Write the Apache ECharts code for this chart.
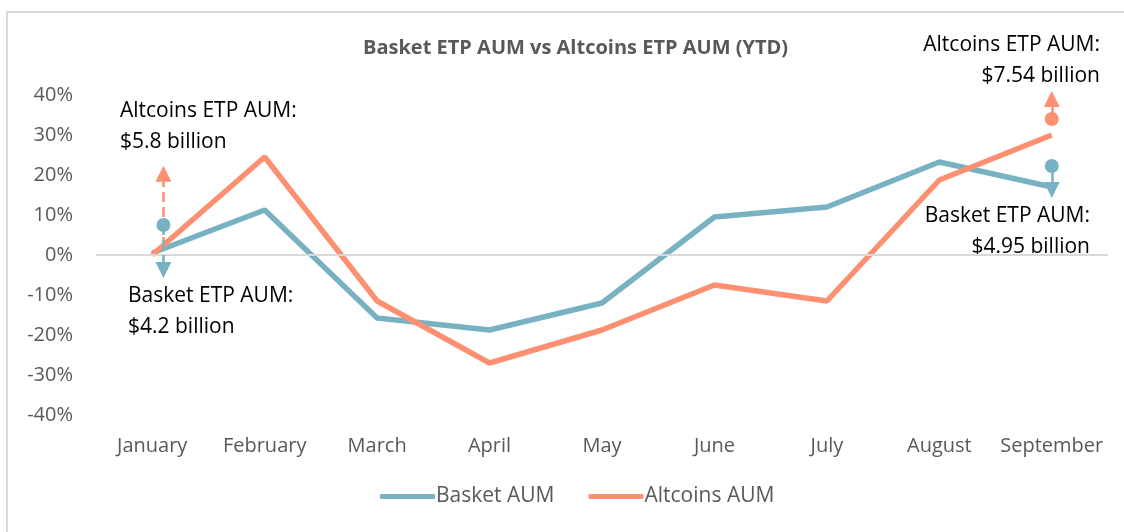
<!DOCTYPE html>
<html>
<head>
<meta charset="utf-8">
<script src="https://cdn.jsdelivr.net/npm/echarts@6/dist/echarts.min.js"></script>
<style>
  html, body { margin: 0; padding: 0; background: #fff; }
  #chart { width: 1124px; height: 532px; }
</style>
</head>
<body>
<div id="chart"></div>
<script>
// months on the x axis
var months = ["January", "February", "March", "April", "May", "June", "July", "August", "September"];
// YTD change in %
var basketAUM = [0.5, 11.25, -15.75, -18.75, -12, 9.5, 12, 23.25, 17];
var altcoinsAUM = [0, 24.5, -11.5, -27, -18.75, -7.5, -11.5, 18.75, 30];
var yTicks = [-40, -30, -20, -10, 0, 10, 20, 30, 40];

// annotation markers: [month position, value]
var basketDots = [[0.1, 7.5], [8, 22.25]];
var altcoinsDots = [[8, 34]];
// arrows: [month position, from, to, line type]
var basketArrows = [[0.1, 7.5, -3.75, "dashed"], [8, 22.25, 16.25, "solid"]];
var altcoinsArrows = [[0.1, 2, 20.3, "dashed"], [8, 34, 39, "solid"]];

var blue = "#78B2C2";
var orange = "#FC9070";
var grey = "#595959";
var font = "'Open Sans', 'Noto Sans', sans-serif";

function arrowLines(list) {
  return list.map(function (a) {
    return [
      { coord: [a[0], a[1]], symbol: "none", lineStyle: { type: a[3] } },
      { coord: [a[0], a[2]], symbol: "triangle", symbolSize: 16 }
    ];
  });
}

var chart = echarts.init(document.getElementById("chart"));

var option = {
  animation: false,
  textStyle: { fontFamily: font },
  title: {
    text: "Basket ETP AUM vs Altcoins ETP AUM (YTD)",
    left: 358,
    top: 33,
    textStyle: { fontSize: 20, fontWeight: "bold", color: grey, fontFamily: font }
  },
  legend: {
    data: ["Basket AUM", "Altcoins AUM"],
    bottom: 20,
    left: 375,
    icon: "roundRect",
    itemWidth: 55,
    itemHeight: 5,
    itemGap: 34,
    textStyle: { fontSize: 21, color: grey, fontFamily: font, padding: [0, 0, 0, -4] }
  },
  grid: { left: 96, right: 16, top: 95, bottom: 117 },
  xAxis: [
    {
      type: "category",
      data: months,
      boundaryGap: true,
      axisLine: { show: false },
      axisTick: { show: false },
      axisLabel: { color: grey, fontSize: 20, margin: 21, interval: 0 }
    },
    {
      type: "value",
      min: -0.5,
      max: 8.5,
      show: false
    }
  ],
  yAxis: {
    type: "value",
    min: yTicks[0],
    max: yTicks[yTicks.length - 1],
    interval: 10,
    splitLine: { show: false },
    axisLine: { show: false },
    axisTick: { show: false },
    axisLabel: { color: grey, fontSize: 20, margin: 23, formatter: "{value}%" }
  },
  graphic: [
    {
      type: "rect",
      shape: { x: 7, y: 12, width: 1300, height: 700 },
      style: { fill: "none", stroke: "#d9d9d9", lineWidth: 2 },
      silent: true,
      z: -10
    },
    {
      type: "text",
      style: { text: "Altcoins ETP AUM:\n$5.8 billion", x: 120, y: 96, font: "21px " + font, fill: "#000", lineHeight: 31 }
    },
    {
      type: "text",
      style: { text: "Basket ETP AUM:\n$4.2 billion", x: 128, y: 281, font: "21px " + font, fill: "#000", lineHeight: 31 }
    },
    {
      type: "text",
      style: { text: "Altcoins ETP AUM:\n$7.54 billion", x: 1100, y: 30, align: "right", font: "21px " + font, fill: "#000", lineHeight: 31 }
    },
    {
      type: "text",
      style: { text: "Basket ETP AUM:\n$4.95 billion", x: 1090, y: 201, align: "right", font: "21px " + font, fill: "#000", lineHeight: 31 }
    }
  ],
  series: [
    {
      name: "zero",
      type: "line",
      data: [],
      z: 1,
      markLine: {
        silent: true,
        symbol: "none",
        label: { show: false },
        lineStyle: { color: "#d9d9d9", width: 2, type: "solid" },
        data: [{ yAxis: 0 }]
      }
    },
    {
      name: "Basket AUM",
      type: "line",
      data: basketAUM,
      symbol: "none",
      color: blue,
      z: 3,
      lineStyle: { width: 5.5, color: blue }
    },
    {
      name: "Altcoins AUM",
      type: "line",
      data: altcoinsAUM,
      symbol: "none",
      color: orange,
      z: 3,
      lineStyle: { width: 5.5, color: orange }
    },
    {
      name: "altcoins arrows",
      type: "scatter",
      xAxisIndex: 1,
      data: altcoinsDots,
      symbolSize: 14,
      itemStyle: { color: orange, opacity: 1 },
      z: 4,
      markLine: {
        silent: true,
        symbol: ["none", "triangle"],
        symbolSize: 16,
        label: { show: false },
        lineStyle: { color: orange, width: 2.5, opacity: 1 },
        itemStyle: { color: orange },
        data: arrowLines(altcoinsArrows)
      }
    },
    {
      name: "basket arrows",
      type: "scatter",
      xAxisIndex: 1,
      data: basketDots,
      symbolSize: 14,
      itemStyle: { color: blue, opacity: 1 },
      z: 5,
      markLine: {
        silent: true,
        symbol: ["none", "triangle"],
        symbolSize: 16,
        label: { show: false },
        lineStyle: { color: blue, width: 2.5, opacity: 1 },
        itemStyle: { color: blue },
        data: arrowLines(basketArrows)
      }
    }
  ]
};

chart.setOption(option);
</script>
</body>
</html>
